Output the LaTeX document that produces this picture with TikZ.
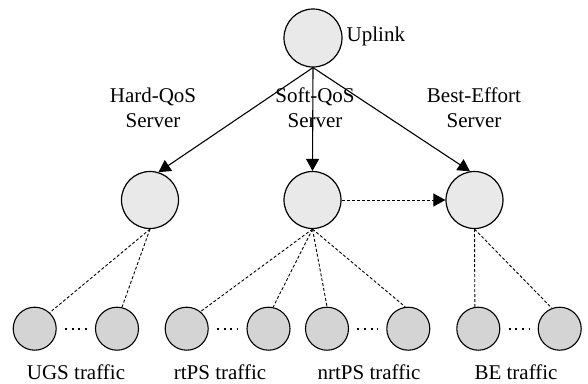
\documentclass[tikz,border=0pt]{standalone}
\usepackage{fontspec}
\setmainfont{Liberation Serif}
\usetikzlibrary{arrows.meta}
\definecolor{serverfill}{gray}{0.915}
\definecolor{flowfill}{gray}{0.83}
\begin{document}
\begin{tikzpicture}[x=1pt,y=-1pt,
  font=\fontsize{21}{25}\selectfont,
  server/.style={circle,draw,line width=1.2pt,fill=serverfill,minimum size=57pt,inner sep=0pt},
  flow/.style={circle,draw,line width=1.1pt,fill=flowfill,minimum size=43pt,inner sep=0pt},
  link/.style={line width=1.1pt,-{Triangle[length=12pt,width=13pt]}},
  feed/.style={line width=0.9pt,dash pattern=on 3pt off 2pt},
  feedarrow/.style={feed,-{Triangle[length=12pt,width=13pt]}},
  gap/.style={line width=2pt,dash pattern=on 2pt off 4.67pt,shorten <=8.3pt,shorten >=8pt},
  lbl/.style={align=center,inner sep=0pt}]
\useasboundingbox (0,0) rectangle (588,383);

% root and the three schedulers
\node[server,minimum size=58pt] (up) at (313,38) {};
\node[anchor=base west,inner sep=0pt] (uplbl) at (346.5,41.5) {Uplink};
\node[server] (hard) at (150,200) {};
\node[server] (soft) at (312.5,200) {};
\node[server] (be) at (474.5,200) {};

% scheduler labels
\node[lbl,anchor=base] (hardlbl) at (153,127) {Hard-QoS\\Server};
\node[lbl,anchor=base] (softlbl) at (315,127) {Soft-QoS\\Server};
\node[lbl,anchor=base] (belbl) at (474,127) {Best-Effort\\Server};

% service flows
\node[flow] (b1) at (34.7,328.7) {};
\node[flow] (b2) at (117,328.7) {};
\node[flow] (b3) at (186.7,328.7) {};
\node[flow] (b4) at (268.5,328.7) {};
\node[flow] (b5) at (327,328.7) {};
\node[flow] (b6) at (408.3,328.7) {};
\node[flow] (b7) at (478.3,328.7) {};
\node[flow] (b8) at (559.7,328.7) {};

% traffic class labels
\node[anchor=base,inner sep=0pt] (ugs) at (76,379.3) {UGS traffic};
\node[anchor=base,inner sep=0pt] (rtps) at (220,379.3) {rtPS traffic};
\node[anchor=base,inner sep=0pt] (nrtps) at (369,379.3) {nrtPS traffic};
\node[anchor=base,inner sep=0pt] (bet) at (516,379.3) {BE traffic};

% uplink to schedulers
\draw[link] (up.south) -- (hard.73);
\draw[link] (up.south) -- (soft.north);
\draw[link] (up.south) -- (be.99);

% spare capacity passed on
\draw[feedarrow] (soft.east) -- (be.west);

% schedulers to flows
\draw[feed] (hard.south) -- (b1.47);
\draw[feed] (hard.south) -- (b2.77);
\draw[feed] (soft.south) -- (b3.51);
\draw[feed] (soft.south) -- (b4.78);
\draw[feed] (soft.south) -- (b5.90);
\draw[feed] (soft.south) -- (b6.98);
\draw[feed] (be.south) -- (b7.99);
\draw[feed] (be.south) -- (b8.111);

% ellipses between flows
\draw[gap] (b1.east) -- (b2.west);
\draw[gap] (b3.east) -- (b4.west);
\draw[gap] (b5.east) -- (b6.west);
\draw[gap] (b7.east) -- (b8.west);
\end{tikzpicture}
\end{document}
